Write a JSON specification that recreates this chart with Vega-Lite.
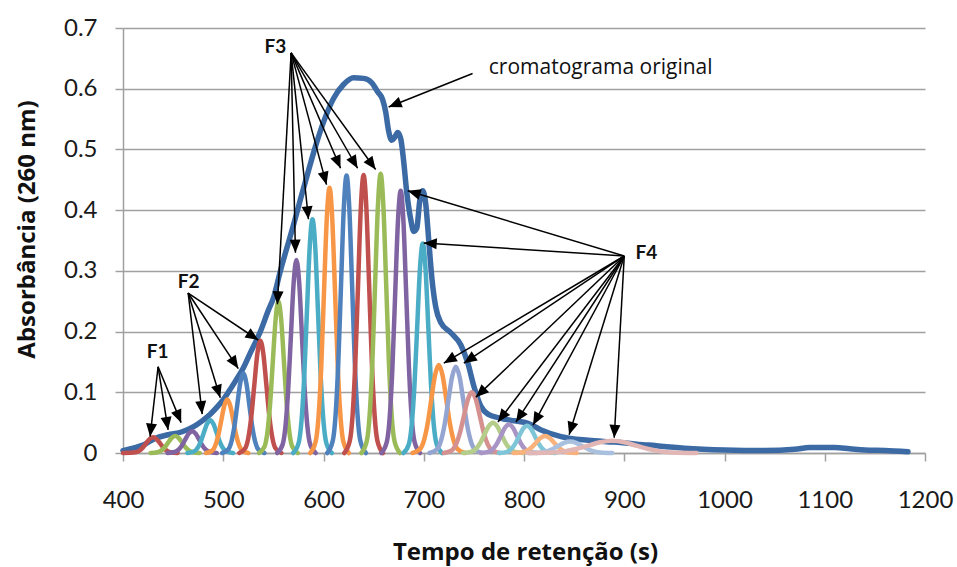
{
"$schema":"https://vega.github.io/schema/vega-lite/v6.json",
"width":802,"height":425,
"autosize":{"type":"none"},
"padding":{"left":123,"top":28,"right":32,"bottom":114},
"background":"white",
"config":{"view":{"stroke":null},"font":"Lato"},
"datasets":{
"main":[
{"t":400,"a":0.004},{"t":410,"a":0.008},{"t":420,"a":0.013},{"t":432,"a":0.024},{"t":445,"a":0.03},{"t":459,"a":0.035},{"t":470,"a":0.043},{"t":479,"a":0.053},{"t":487,"a":0.064},{"t":494,"a":0.076},{"t":500,"a":0.088},{"t":505,"a":0.1},{"t":512,"a":0.118},{"t":520,"a":0.14},{"t":527,"a":0.165},{"t":537,"a":0.2},{"t":545,"a":0.235},{"t":550,"a":0.255},{"t":557,"a":0.3},{"t":563,"a":0.335},{"t":570,"a":0.375},{"t":577,"a":0.418},{"t":585,"a":0.465},{"t":592,"a":0.505},{"t":600,"a":0.545},{"t":610,"a":0.584},{"t":620,"a":0.607},{"t":630,"a":0.618},{"t":640,"a":0.617},{"t":648,"a":0.61},{"t":654,"a":0.595},{"t":659,"a":0.582},{"t":662,"a":0.562},{"t":665,"a":0.53},{"t":668,"a":0.515},{"t":671,"a":0.52},{"t":674,"a":0.528},{"t":677,"a":0.518},{"t":680,"a":0.48},{"t":683,"a":0.43},{"t":687,"a":0.385},{"t":690,"a":0.365},{"t":693,"a":0.37},{"t":696,"a":0.415},{"t":699,"a":0.432},{"t":702,"a":0.41},{"t":705,"a":0.35},{"t":708,"a":0.29},{"t":712,"a":0.24},{"t":717,"a":0.215},{"t":727,"a":0.198},{"t":737,"a":0.178},{"t":744,"a":0.148},{"t":750,"a":0.11},{"t":757,"a":0.077},{"t":764,"a":0.064},{"t":775,"a":0.058},{"t":790,"a":0.053},{"t":804,"a":0.049},{"t":817,"a":0.038},{"t":837,"a":0.027},{"t":864,"a":0.021},{"t":890,"a":0.018},{"t":924,"a":0.013},{"t":960,"a":0.008},{"t":1000,"a":0.005},{"t":1040,"a":0.004},{"t":1070,"a":0.006},{"t":1085,"a":0.009},{"t":1110,"a":0.009},{"t":1125,"a":0.007},{"t":1140,"a":0.005},{"t":1160,"a":0.004},{"t":1183,"a":0.002}
],
"peaks":[
{"k":"p01","t":400,"a":0},{"k":"p01","t":412.5,"a":0.0011},{"k":"p01","t":416,"a":0.0035},{"k":"p01","t":419.5,"a":0.0085},{"k":"p01","t":423,"a":0.0158},{"k":"p01","t":426.5,"a":0.0229},{"k":"p01","t":430,"a":0.026},{"k":"p01","t":433.5,"a":0.0229},{"k":"p01","t":437,"a":0.0158},{"k":"p01","t":440.5,"a":0.0085},{"k":"p01","t":444,"a":0.0035},{"k":"p01","t":447.5,"a":0.0011},{"k":"p01","t":454.5,"a":0},
{"k":"p02","t":427.5,"a":0},{"k":"p02","t":434.5,"a":0.0012},{"k":"p02","t":438,"a":0.0038},{"k":"p02","t":441.5,"a":0.0091},{"k":"p02","t":445,"a":0.017},{"k":"p02","t":448.5,"a":0.0247},{"k":"p02","t":452,"a":0.028},{"k":"p02","t":455.5,"a":0.0247},{"k":"p02","t":459,"a":0.017},{"k":"p02","t":462.5,"a":0.0091},{"k":"p02","t":466,"a":0.0038},{"k":"p02","t":469.5,"a":0.0012},{"k":"p02","t":476.5,"a":0},
{"k":"p03","t":444.5,"a":0},{"k":"p03","t":451.5,"a":0.0016},{"k":"p03","t":455,"a":0.0049},{"k":"p03","t":458.5,"a":0.0117},{"k":"p03","t":462,"a":0.0219},{"k":"p03","t":465.5,"a":0.0318},{"k":"p03","t":469,"a":0.036},{"k":"p03","t":472.5,"a":0.0318},{"k":"p03","t":476,"a":0.0219},{"k":"p03","t":479.5,"a":0.0117},{"k":"p03","t":483,"a":0.0049},{"k":"p03","t":486.5,"a":0.0016},{"k":"p03","t":493.5,"a":0},
{"k":"p04","t":464.25,"a":0},{"k":"p04","t":470.75,"a":0.0024},{"k":"p04","t":474,"a":0.0073},{"k":"p04","t":477.25,"a":0.0176},{"k":"p04","t":480.5,"a":0.0328},{"k":"p04","t":483.75,"a":0.0476},{"k":"p04","t":487,"a":0.054},{"k":"p04","t":490.25,"a":0.0476},{"k":"p04","t":493.5,"a":0.0328},{"k":"p04","t":496.75,"a":0.0176},{"k":"p04","t":500,"a":0.0073},{"k":"p04","t":503.25,"a":0.0024},{"k":"p04","t":509.75,"a":0},
{"k":"p05","t":483,"a":0},{"k":"p05","t":489,"a":0.0039},{"k":"p05","t":492,"a":0.0119},{"k":"p05","t":495,"a":0.0286},{"k":"p05","t":498,"a":0.0534},{"k":"p05","t":501,"a":0.0776},{"k":"p05","t":504,"a":0.088},{"k":"p05","t":507,"a":0.0776},{"k":"p05","t":510,"a":0.0534},{"k":"p05","t":513,"a":0.0286},{"k":"p05","t":516,"a":0.0119},{"k":"p05","t":519,"a":0.0039},{"k":"p05","t":525,"a":0},
{"k":"p06","t":499,"a":0},{"k":"p06","t":505,"a":0.0058},{"k":"p06","t":508,"a":0.0177},{"k":"p06","t":511,"a":0.0426},{"k":"p06","t":514,"a":0.0795},{"k":"p06","t":517,"a":0.1155},{"k":"p06","t":520,"a":0.131},{"k":"p06","t":523,"a":0.1155},{"k":"p06","t":526,"a":0.0795},{"k":"p06","t":529,"a":0.0426},{"k":"p06","t":532,"a":0.0177},{"k":"p06","t":535,"a":0.0058},{"k":"p06","t":541,"a":0},
{"k":"p07","t":516,"a":0},{"k":"p07","t":522,"a":0.0081},{"k":"p07","t":525,"a":0.025},{"k":"p07","t":528,"a":0.0601},{"k":"p07","t":531,"a":0.1123},{"k":"p07","t":534,"a":0.1632},{"k":"p07","t":537,"a":0.185},{"k":"p07","t":540,"a":0.1632},{"k":"p07","t":543,"a":0.1123},{"k":"p07","t":546,"a":0.0601},{"k":"p07","t":549,"a":0.025},{"k":"p07","t":552,"a":0.0081},{"k":"p07","t":558,"a":0},
{"k":"p08","t":535.75,"a":0},{"k":"p08","t":541.25,"a":0.011},{"k":"p08","t":544,"a":0.0338},{"k":"p08","t":546.75,"a":0.0813},{"k":"p08","t":549.5,"a":0.1518},{"k":"p08","t":552.25,"a":0.2205},{"k":"p08","t":555,"a":0.25},{"k":"p08","t":557.75,"a":0.2205},{"k":"p08","t":560.5,"a":0.1518},{"k":"p08","t":563.25,"a":0.0813},{"k":"p08","t":566,"a":0.0338},{"k":"p08","t":568.75,"a":0.011},{"k":"p08","t":574.25,"a":0},
{"k":"p09","t":553.75,"a":0},{"k":"p09","t":559.25,"a":0.014},{"k":"p09","t":562,"a":0.0429},{"k":"p09","t":564.75,"a":0.1034},{"k":"p09","t":567.5,"a":0.193},{"k":"p09","t":570.25,"a":0.2805},{"k":"p09","t":573,"a":0.318},{"k":"p09","t":575.75,"a":0.2805},{"k":"p09","t":578.5,"a":0.193},{"k":"p09","t":581.25,"a":0.1034},{"k":"p09","t":584,"a":0.0429},{"k":"p09","t":586.75,"a":0.014},{"k":"p09","t":592.25,"a":0},
{"k":"p10","t":569.75,"a":0},{"k":"p10","t":575.25,"a":0.0169},{"k":"p10","t":578,"a":0.052},{"k":"p10","t":580.75,"a":0.1251},{"k":"p10","t":583.5,"a":0.2337},{"k":"p10","t":586.25,"a":0.3396},{"k":"p10","t":589,"a":0.385},{"k":"p10","t":591.75,"a":0.3396},{"k":"p10","t":594.5,"a":0.2337},{"k":"p10","t":597.25,"a":0.1251},{"k":"p10","t":600,"a":0.052},{"k":"p10","t":602.75,"a":0.0169},{"k":"p10","t":608.25,"a":0},
{"k":"p11","t":586.75,"a":0},{"k":"p11","t":592.25,"a":0.0192},{"k":"p11","t":595,"a":0.059},{"k":"p11","t":597.75,"a":0.142},{"k":"p11","t":600.5,"a":0.2652},{"k":"p11","t":603.25,"a":0.3854},{"k":"p11","t":606,"a":0.437},{"k":"p11","t":608.75,"a":0.3854},{"k":"p11","t":611.5,"a":0.2652},{"k":"p11","t":614.25,"a":0.142},{"k":"p11","t":617,"a":0.059},{"k":"p11","t":619.75,"a":0.0192},{"k":"p11","t":625.25,"a":0},
{"k":"p12","t":603.75,"a":0},{"k":"p12","t":609.25,"a":0.0201},{"k":"p12","t":612,"a":0.0617},{"k":"p12","t":614.75,"a":0.1485},{"k":"p12","t":617.5,"a":0.2774},{"k":"p12","t":620.25,"a":0.4031},{"k":"p12","t":623,"a":0.457},{"k":"p12","t":625.75,"a":0.4031},{"k":"p12","t":628.5,"a":0.2774},{"k":"p12","t":631.25,"a":0.1485},{"k":"p12","t":634,"a":0.0617},{"k":"p12","t":636.75,"a":0.0201},{"k":"p12","t":642.25,"a":0},
{"k":"p13","t":620.75,"a":0},{"k":"p13","t":626.25,"a":0.0202},{"k":"p13","t":629,"a":0.0618},{"k":"p13","t":631.75,"a":0.1489},{"k":"p13","t":634.5,"a":0.278},{"k":"p13","t":637.25,"a":0.404},{"k":"p13","t":640,"a":0.458},{"k":"p13","t":642.75,"a":0.404},{"k":"p13","t":645.5,"a":0.278},{"k":"p13","t":648.25,"a":0.1489},{"k":"p13","t":651,"a":0.0618},{"k":"p13","t":653.75,"a":0.0202},{"k":"p13","t":659.25,"a":0},
{"k":"p14","t":637.75,"a":0},{"k":"p14","t":643.25,"a":0.0202},{"k":"p14","t":646,"a":0.0621},{"k":"p14","t":648.75,"a":0.1495},{"k":"p14","t":651.5,"a":0.2792},{"k":"p14","t":654.25,"a":0.4057},{"k":"p14","t":657,"a":0.46},{"k":"p14","t":659.75,"a":0.4057},{"k":"p14","t":662.5,"a":0.2792},{"k":"p14","t":665.25,"a":0.1495},{"k":"p14","t":668,"a":0.0621},{"k":"p14","t":670.75,"a":0.0202},{"k":"p14","t":676.25,"a":0},
{"k":"p15","t":657.75,"a":0},{"k":"p15","t":663.25,"a":0.019},{"k":"p15","t":666,"a":0.0583},{"k":"p15","t":668.75,"a":0.1404},{"k":"p15","t":671.5,"a":0.2622},{"k":"p15","t":674.25,"a":0.381},{"k":"p15","t":677,"a":0.432},{"k":"p15","t":679.75,"a":0.381},{"k":"p15","t":682.5,"a":0.2622},{"k":"p15","t":685.25,"a":0.1404},{"k":"p15","t":688,"a":0.0583},{"k":"p15","t":690.75,"a":0.019},{"k":"p15","t":696.25,"a":0},
{"k":"p16","t":679.75,"a":0},{"k":"p16","t":685.25,"a":0.0152},{"k":"p16","t":688,"a":0.0466},{"k":"p16","t":690.75,"a":0.1121},{"k":"p16","t":693.5,"a":0.2094},{"k":"p16","t":696.25,"a":0.3043},{"k":"p16","t":699,"a":0.345},{"k":"p16","t":701.75,"a":0.3043},{"k":"p16","t":704.5,"a":0.2094},{"k":"p16","t":707.25,"a":0.1121},{"k":"p16","t":710,"a":0.0466},{"k":"p16","t":712.75,"a":0.0152},{"k":"p16","t":718.25,"a":0},
{"k":"p17","t":688.75,"a":0},{"k":"p17","t":696.25,"a":0.0064},{"k":"p17","t":700,"a":0.0196},{"k":"p17","t":703.75,"a":0.0471},{"k":"p17","t":707.5,"a":0.088},{"k":"p17","t":711.25,"a":0.1279},{"k":"p17","t":715,"a":0.145},{"k":"p17","t":718.75,"a":0.1279},{"k":"p17","t":722.5,"a":0.088},{"k":"p17","t":726.25,"a":0.0471},{"k":"p17","t":730,"a":0.0196},{"k":"p17","t":733.75,"a":0.0064},{"k":"p17","t":741.25,"a":0},
{"k":"p18","t":705.75,"a":0},{"k":"p18","t":713.25,"a":0.0062},{"k":"p18","t":717,"a":0.0192},{"k":"p18","t":720.75,"a":0.0462},{"k":"p18","t":724.5,"a":0.0862},{"k":"p18","t":728.25,"a":0.1252},{"k":"p18","t":732,"a":0.142},{"k":"p18","t":735.75,"a":0.1252},{"k":"p18","t":739.5,"a":0.0862},{"k":"p18","t":743.25,"a":0.0462},{"k":"p18","t":747,"a":0.0192},{"k":"p18","t":750.75,"a":0.0062},{"k":"p18","t":758.25,"a":0},
{"k":"p19","t":720,"a":0},{"k":"p19","t":728,"a":0.0044},{"k":"p19","t":732,"a":0.0135},{"k":"p19","t":736,"a":0.0325},{"k":"p19","t":740,"a":0.0607},{"k":"p19","t":744,"a":0.0882},{"k":"p19","t":748,"a":0.1},{"k":"p19","t":752,"a":0.0882},{"k":"p19","t":756,"a":0.0607},{"k":"p19","t":760,"a":0.0325},{"k":"p19","t":764,"a":0.0135},{"k":"p19","t":768,"a":0.0044},{"k":"p19","t":776,"a":0},
{"k":"p20","t":739.25,"a":0},{"k":"p20","t":747.75,"a":0.0022},{"k":"p20","t":752,"a":0.0068},{"k":"p20","t":756.25,"a":0.0163},{"k":"p20","t":760.5,"a":0.0304},{"k":"p20","t":764.75,"a":0.0441},{"k":"p20","t":769,"a":0.05},{"k":"p20","t":773.25,"a":0.0441},{"k":"p20","t":777.5,"a":0.0304},{"k":"p20","t":781.75,"a":0.0163},{"k":"p20","t":786,"a":0.0068},{"k":"p20","t":790.25,"a":0.0022},{"k":"p20","t":798.75,"a":0},
{"k":"p21","t":757,"a":0},{"k":"p21","t":765,"a":0.0021},{"k":"p21","t":769,"a":0.0063},{"k":"p21","t":773,"a":0.0153},{"k":"p21","t":777,"a":0.0285},{"k":"p21","t":781,"a":0.0415},{"k":"p21","t":785,"a":0.047},{"k":"p21","t":789,"a":0.0415},{"k":"p21","t":793,"a":0.0285},{"k":"p21","t":797,"a":0.0153},{"k":"p21","t":801,"a":0.0063},{"k":"p21","t":805,"a":0.0021},{"k":"p21","t":813,"a":0},
{"k":"p22","t":775,"a":0},{"k":"p22","t":783,"a":0.002},{"k":"p22","t":787,"a":0.0061},{"k":"p22","t":791,"a":0.0146},{"k":"p22","t":795,"a":0.0273},{"k":"p22","t":799,"a":0.0397},{"k":"p22","t":803,"a":0.045},{"k":"p22","t":807,"a":0.0397},{"k":"p22","t":811,"a":0.0273},{"k":"p22","t":815,"a":0.0146},{"k":"p22","t":819,"a":0.0061},{"k":"p22","t":823,"a":0.002},{"k":"p22","t":831,"a":0},
{"k":"p23","t":789.5,"a":0},{"k":"p23","t":798.5,"a":0.0012},{"k":"p23","t":803,"a":0.0038},{"k":"p23","t":807.5,"a":0.0091},{"k":"p23","t":812,"a":0.017},{"k":"p23","t":816.5,"a":0.0247},{"k":"p23","t":821,"a":0.028},{"k":"p23","t":825.5,"a":0.0247},{"k":"p23","t":830,"a":0.017},{"k":"p23","t":834.5,"a":0.0091},{"k":"p23","t":839,"a":0.0038},{"k":"p23","t":843.5,"a":0.0012},{"k":"p23","t":852.5,"a":0},
{"k":"p24","t":804,"a":0},{"k":"p24","t":816,"a":0.0008},{"k":"p24","t":822,"a":0.0026},{"k":"p24","t":828,"a":0.0062},{"k":"p24","t":834,"a":0.0115},{"k":"p24","t":840,"a":0.0168},{"k":"p24","t":846,"a":0.019},{"k":"p24","t":852,"a":0.0168},{"k":"p24","t":858,"a":0.0115},{"k":"p24","t":864,"a":0.0062},{"k":"p24","t":870,"a":0.0026},{"k":"p24","t":876,"a":0.0008},{"k":"p24","t":888,"a":0},
{"k":"p25","t":804,"a":0},{"k":"p25","t":828,"a":0.0009},{"k":"p25","t":840,"a":0.0027},{"k":"p25","t":852,"a":0.0065},{"k":"p25","t":864,"a":0.0121},{"k":"p25","t":876,"a":0.0176},{"k":"p25","t":888,"a":0.02},{"k":"p25","t":900,"a":0.0176},{"k":"p25","t":912,"a":0.0121},{"k":"p25","t":924,"a":0.0065},{"k":"p25","t":936,"a":0.0027},{"k":"p25","t":948,"a":0.0009},{"k":"p25","t":972,"a":0}
],
"arrows":[
{"t":435,"a":0.142,"t2":427,"a2":0.027},{"t":435,"a":0.142,"t2":445,"a2":0.038},{"t":435,"a":0.142,"t2":458,"a2":0.05},
{"t":465,"a":0.2635,"t2":479,"a2":0.064},{"t":465,"a":0.2635,"t2":497,"a2":0.091},{"t":465,"a":0.2635,"t2":515,"a2":0.139},{"t":465,"a":0.2635,"t2":535,"a2":0.186},
{"t":567.7,"a":0.659,"t2":554,"a2":0.245},{"t":567.7,"a":0.659,"t2":572,"a2":0.33},{"t":567.7,"a":0.659,"t2":585,"a2":0.385},{"t":567.7,"a":0.659,"t2":603,"a2":0.442},{"t":567.7,"a":0.659,"t2":617,"a2":0.469},{"t":567.7,"a":0.659,"t2":634,"a2":0.469},{"t":567.7,"a":0.659,"t2":652,"a2":0.467},
{"t":748.7,"a":0.625,"t2":665,"a2":0.57},
{"t":900,"a":0.3245,"t2":684,"a2":0.432},{"t":900,"a":0.3245,"t2":700,"a2":0.346},{"t":900,"a":0.3245,"t2":720,"a2":0.148},{"t":900,"a":0.3245,"t2":740,"a2":0.148},{"t":900,"a":0.3245,"t2":752,"a2":0.092},{"t":900,"a":0.3245,"t2":774,"a2":0.051},{"t":900,"a":0.3245,"t2":792,"a2":0.051},{"t":900,"a":0.3245,"t2":809,"a2":0.046},{"t":900,"a":0.3245,"t2":845,"a2":0.03},{"t":900,"a":0.3245,"t2":890,"a2":0.025}
],
"labels":[
{"txt":"F1","t":434.5,"a":0.167},{"txt":"F2","t":465.5,"a":0.281},{"txt":"F3","t":552,"a":0.6695},{"txt":"F4","t":922,"a":0.329}
],
"note":[{"txt":"cromatograma original","t":876.5,"a":0.634}]
},
"encoding":{
"x":{"field":"t","type":"quantitative","scale":{"domain":[400,1200],"nice":false,"zero":false},
"axis":{"title":"Tempo de retenção (s)","values":[400,500,600,700,800,900,1000,1100,1200],"format":"d","grid":false,
"domainColor":"#a0a0a0","domainWidth":1.5,"tickColor":"#a0a0a0","tickWidth":1.5,"tickSize":8,
"labelFont":"Lato","labelFontSize":24,"labelColor":"#1a1a1a","labelPadding":27,"labelFlush":false,
"titleFont":"Open Sans","titleFontSize":24,"titleFontWeight":"bold","titleColor":"#111111","titleX":402,"titleY":106,"titleBaseline":"alphabetic","titleAlign":"center"}},
"y":{"field":"a","type":"quantitative","scale":{"domain":[0,0.7],"nice":false},
"axis":{"title":"Absorbância (260 nm)","values":[0,0.1,0.2,0.3,0.4,0.5,0.6,0.7],"format":".1~f","grid":true,"gridColor":"#a0a0a0","gridWidth":1.5,
"domainColor":"#a0a0a0","domainWidth":1.5,"tickColor":"#a0a0a0","tickWidth":1.5,"tickSize":8,
"labelFont":"Lato","labelFontSize":24,"labelColor":"#1a1a1a","labelPadding":18,"labelFlush":false,
"titleFont":"Open Sans","titleFontSize":24,"titleFontWeight":"bold","titleColor":"#111111","titleX":-96,"titleY":201,"titleAngle":-90,"titleBaseline":"middle","titleAlign":"center"}}
},
"layer":[
{"data":{"name":"main"},"mark":{"type":"line","interpolate":"monotone","color":"#3c6aa5","strokeWidth":5.5,"strokeJoin":"round","strokeCap":"round"}},
{"data":{"name":"peaks"},"mark":{"type":"line","interpolate":"monotone","strokeWidth":4.5,"strokeJoin":"round","strokeCap":"round"},
"encoding":{"color":{"field":"k","type":"nominal","legend":null,"scale":{
"domain":["p01","p02","p03","p04","p05","p06","p07","p08","p09","p10","p11","p12","p13","p14","p15","p16","p17","p18","p19","p20","p21","p22","p23","p24","p25"],
"range":["#c0504d","#9bbb59","#8064a2","#4bacc6","#f79646","#4f81bd","#c0504d","#9bbb59","#8064a2","#4bacc6","#f79646","#4f81bd","#c0504d","#9bbb59","#8064a2","#4bacc6","#f79646","#95a5d2","#d4918f","#b5cd8a","#a895c6","#7fc5d8","#f9b27b","#a9c0de","#e2b6b4"]}}}},
{"data":{"name":"arrows"},"mark":{"type":"rule","color":"#000000","strokeWidth":1.5},
"encoding":{"x2":{"field":"t2"},"y2":{"field":"a2"}}},
{"data":{"name":"arrows"},"transform":[{"calculate":"atan2((datum.t2-datum.t)*1.0025,(datum.a2-datum.a)*607.14)*180/PI","as":"ang"}],
"mark":{"type":"point","shape":"M0,0L-1.1,2.6L1.1,2.6Z","filled":true,"size":100,"color":"#000000","opacity":1,"strokeWidth":0},
"encoding":{"x":{"field":"t2","type":"quantitative"},"y":{"field":"a2","type":"quantitative"},"angle":{"field":"ang","type":"quantitative","scale":null}}},
{"data":{"name":"labels"},"mark":{"type":"text","font":"Lato","fontSize":19,"fontWeight":"bold","color":"#111111","align":"center","baseline":"middle"},
"encoding":{"text":{"field":"txt"}}},
{"data":{"name":"note"},"mark":{"type":"text","font":"Open Sans","fontSize":21,"color":"#111111","align":"center","baseline":"middle"},
"encoding":{"text":{"field":"txt"}}}
]
}
